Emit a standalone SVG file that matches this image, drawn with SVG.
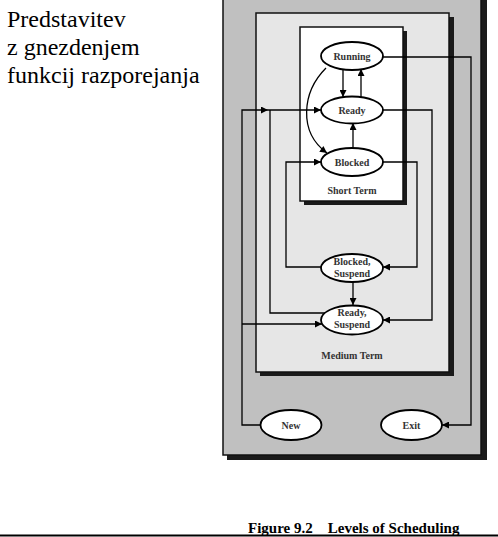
<svg xmlns="http://www.w3.org/2000/svg" width="498" height="537" viewBox="0 0 498 537">
<style>
.box{stroke:#111;stroke-width:1.5}
.shadow{fill:#1a1a1a}
.node ellipse{fill:#fff;stroke:#000;stroke-width:1.8}
.node text{font-family:"Liberation Serif",serif;font-weight:bold;font-size:10px;fill:#333;text-anchor:middle}
.lbl{font-family:"Liberation Serif",serif;font-weight:bold;font-size:10px;fill:#333;text-anchor:middle}
.conn path{fill:none;stroke:#000;stroke-width:1.3}
</style>
<defs>
<marker id="ah" viewBox="0 0 10 10" refX="10" refY="5" markerWidth="8" markerHeight="7" markerUnits="userSpaceOnUse" orient="auto">
<path d="M0,0 L10,5 L0,10 z" fill="#000"/>
</marker>
</defs>
<rect width="498" height="537" fill="#fff"/>
<g id="title" font-family="Liberation Serif, serif" font-size="24" fill="#000">
<text x="7" y="27">Predstavitev</text>
<text x="7" y="55">z gnezdenjem</text>
<text x="7" y="83">funkcij razporejanja</text>
</g>
<g id="outer-box">
<rect class="shadow" x="227" y="-6" width="260" height="466"/>
<rect class="box" x="223" y="-10" width="258" height="465" fill="#c0c0c0"/>
</g>
<g id="medium-box">
<rect class="shadow" x="260" y="17" width="194" height="359"/>
<rect class="box" x="256" y="13" width="193" height="359" fill="#e6e6e6"/>
<text class="lbl" x="352" y="359">Medium Term</text>
</g>
<g id="short-box">
<rect class="shadow" x="304" y="31" width="103" height="174"/>
<rect class="box" x="300" y="27" width="103" height="174" fill="#fff"/>
<text class="lbl" x="352" y="194">Short Term</text>
</g>
<g class="conn" id="connectors">
<path d="M383,57 H471 V425 H442" marker-end="url(#ah)"/>
<path d="M343,69 V97" marker-end="url(#ah)"/>
<path d="M361,97 V69" marker-end="url(#ah)"/>
<path d="M326,68 C302,92 298,132 327,153" marker-end="url(#ah)"/>
<path d="M353,148 V123" marker-end="url(#ah)"/>
<path d="M261,425 H242 V110 H268" marker-end="url(#ah)"/>
<path d="M268,110 H321" marker-end="url(#ah)"/>
<path d="M325,313 H270 V110"/>
<path d="M242,324 H322" marker-end="url(#ah)"/>
<path d="M383,110 H432 V320 H383" marker-end="url(#ah)"/>
<path d="M383,162 H417 V267 H383" marker-end="url(#ah)"/>
<path d="M321,267 H286 V162 H321" marker-end="url(#ah)"/>
<path d="M353,282 V305" marker-end="url(#ah)"/>
</g>
<g class="node" id="running"><ellipse cx="352" cy="56" rx="31" ry="14"/><text x="352" y="60">Running</text></g>
<g class="node" id="ready"><ellipse cx="352" cy="110" rx="31" ry="13.5"/><text x="352" y="114">Ready</text></g>
<g class="node" id="blocked"><ellipse cx="352" cy="162" rx="31" ry="14"/><text x="352" y="166">Blocked</text></g>
<g class="node" id="blocked-suspend"><ellipse cx="352" cy="268" rx="31" ry="14"/><text x="352" y="265">Blocked,</text><text x="352" y="277">Suspend</text></g>
<g class="node" id="ready-suspend"><ellipse cx="352" cy="320" rx="31" ry="14.5"/><text x="352" y="316">Ready,</text><text x="352" y="328">Suspend</text></g>
<g class="node" id="new"><ellipse cx="291" cy="425" rx="30.5" ry="15"/><text x="291" y="429">New</text></g>
<g class="node" id="exit"><ellipse cx="411.5" cy="425" rx="30.5" ry="15"/><text x="411.5" y="429">Exit</text></g>
<g id="caption">
<text x="248" y="533" font-family="Liberation Serif, serif" font-weight="bold" font-size="15" fill="#000" xml:space="preserve">Figure 9.2    Levels of Scheduling</text>
<line x1="0" y1="535.5" x2="498" y2="535.5" stroke="#000" stroke-width="2"/>
</g>
</svg>
